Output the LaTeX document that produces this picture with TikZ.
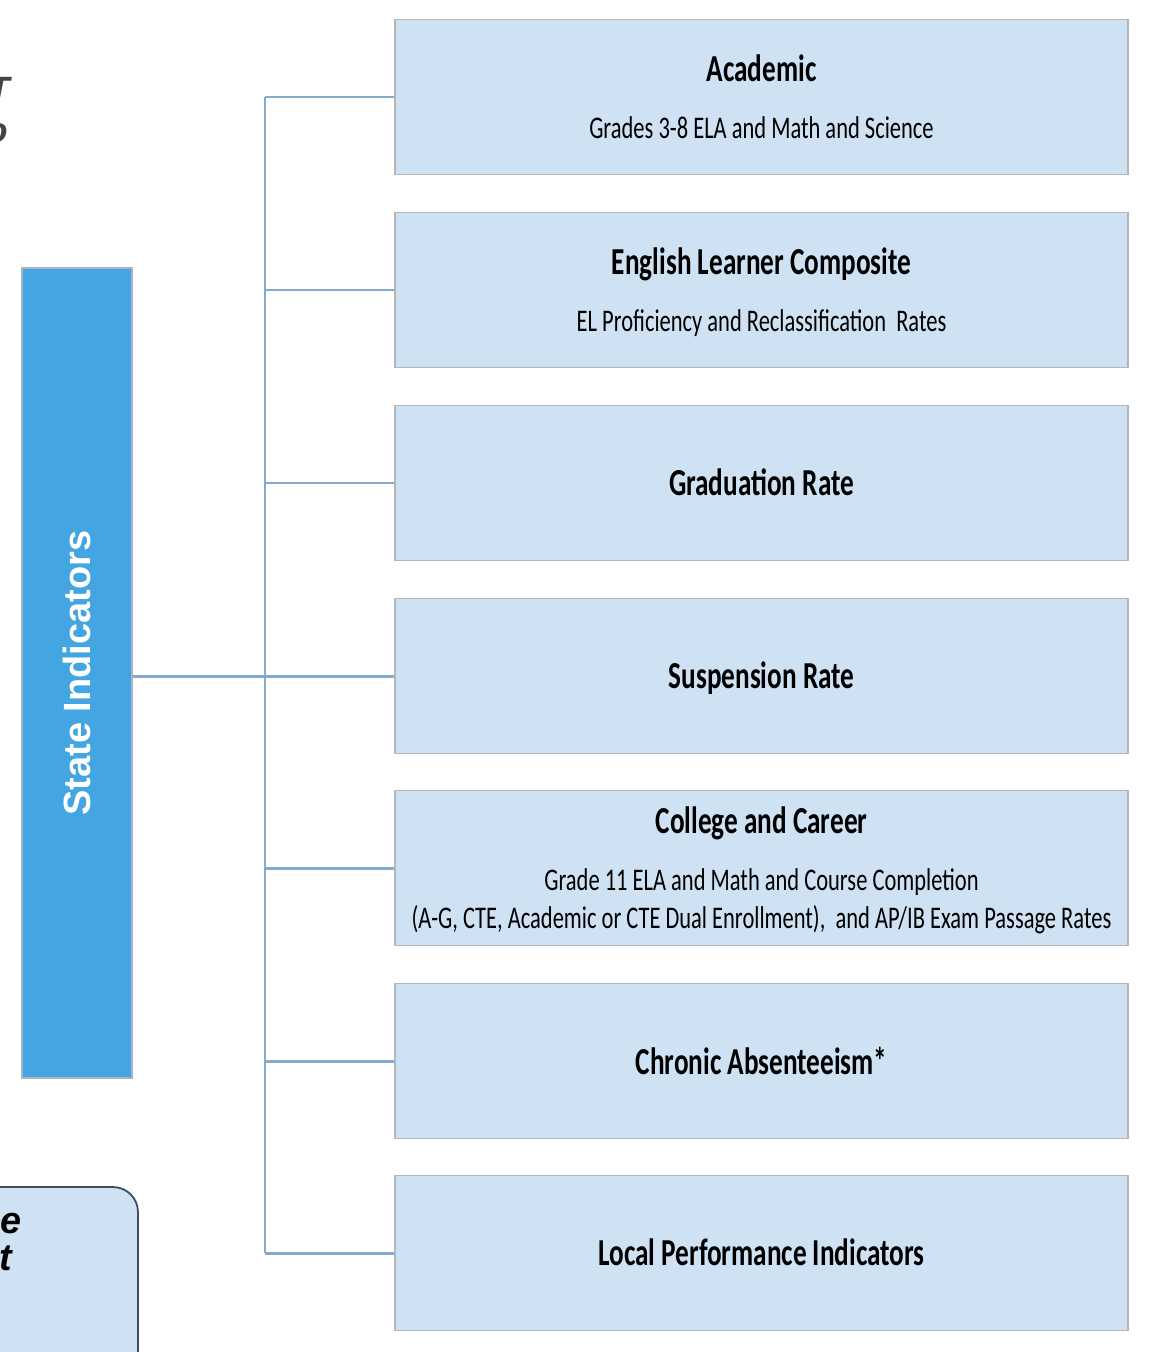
\documentclass[tikz,border=0pt]{standalone}
\usepackage{fontspec}
\setmainfont{Carlito}
\setsansfont{Liberation Sans}
\usepackage{graphicx}
\usetikzlibrary{positioning,calc}
\definecolor{cindic}{HTML}{CFE2F3}
\definecolor{cindicb}{HTML}{B2B6BA}
\definecolor{cestado}{HTML}{43A5E2}
\definecolor{cestadob}{HTML}{A9B4BE}
\definecolor{crama}{HTML}{86AACD}
\definecolor{cnota}{HTML}{CFE2F3}
\definecolor{cnotab}{HTML}{3C4B5E}
\definecolor{cfrag}{HTML}{444444}
\tikzset{
  indicador/.style={draw=cindicb,fill=cindic,line width=0.8pt,align=center,
                    inner sep=0pt,minimum width=14.66cm,minimum height=3.1cm,
                    font=\fontsize{12.8}{15.4}\selectfont},
  estado/.style={draw=cestadob,fill=cestado,line width=0.8pt,inner sep=0pt,
                 minimum width=2.2cm,minimum height=16.2cm,text=white,
                 font=\sffamily\bfseries\fontsize{21.6}{26}\selectfont},
  rama/.style={draw=crama,line width=1.7pt},
  nota/.style={draw=cnotab,fill=cnota,line width=1pt,rounded corners=0.5cm,
               minimum width=3.56cm,minimum height=4.26cm},
  notatxt/.style={font=\sffamily\bfseries\itshape\fontsize{21.5}{26}\selectfont,inner sep=0pt},
  frag/.style={notatxt,text=cfrag,font=\sffamily\bfseries\itshape\fontsize{20}{24}\selectfont},
}
\newcommand{\alto}[1]{\raisebox{-3pt}[\height][\depth]{\scalebox{1}[1.4]{\begin{tabular}{@{}c@{}}#1\end{tabular}}}}
\newcommand{\titulo}[1]{{\fontsize{15.5}{18}\selectfont\bfseries #1}}

\begin{document}
\begin{tikzpicture}[x=0.02cm,y=-0.02cm]
\useasboundingbox (0,0) rectangle (1155,1352);
\clip (0,0) rectangle (1155,1352);

\node[frag,anchor=base east] (frag1) at (10,101) {T};
\node[frag,anchor=base east] (frag2) at (8,142) {o};

\node[estado] (estado) at (77,673) {\rotatebox{90}{State Indicators}};

\node[indicador] (acad)    at (761.5,97)   {\alto{\titulo{Academic}\\[8pt] Grades 3-8 ELA and Math and Science}};
\node[indicador] (ingles)  at (761.5,290)  {\alto{\titulo{English Learner Composite}\\[8pt] EL Proficiency and Reclassification~ Rates}};
\node[indicador] (grad)    at (761.5,483)  {\alto{\titulo{Graduation Rate}}};
\node[indicador] (susp)    at (761.5,676)  {\alto{\titulo{Suspension Rate}}};
\node[indicador] (carrera) at (761.5,868)  {\alto{\titulo{College and Career}\\[8pt] Grade 11 ELA and Math and Course Completion\\
                             (A-G, CTE, Academic or CTE Dual Enrollment),~ and AP/IB Exam Passage Rates}};
\node[indicador] (ausen)   at (761.5,1061) {\alto{\titulo{Chronic Absenteeism*}}};
\node[indicador] (local)   at (761.5,1253) {\alto{\titulo{Local Performance Indicators}}};

\coordinate (tronco) at (265,676);
\draw[rama] (estado.east |- tronco) -- (tronco);
\draw[rama] (tronco |- acad.west) -- (tronco |- local.west);
\draw[rama] (tronco |- acad.west)    -- (acad.west);
\draw[rama] (tronco |- ingles.west)  -- (ingles.west);
\draw[rama] (tronco |- grad.west)    -- (grad.west);
\draw[rama] (tronco |- susp.west)    -- (susp.west);
\draw[rama] (tronco |- carrera.west) -- (carrera.west);
\draw[rama] (tronco |- ausen.west)   -- (ausen.west);
\draw[rama] (tronco |- local.west)   -- (local.west);

\node[nota] (nota) at (49,1293.5) {};
\node[notatxt,anchor=base east] (nota1) at (22,1233) {e};
\node[notatxt,anchor=base east] (nota2) at (12,1270) {t};

\end{tikzpicture}
\end{document}
